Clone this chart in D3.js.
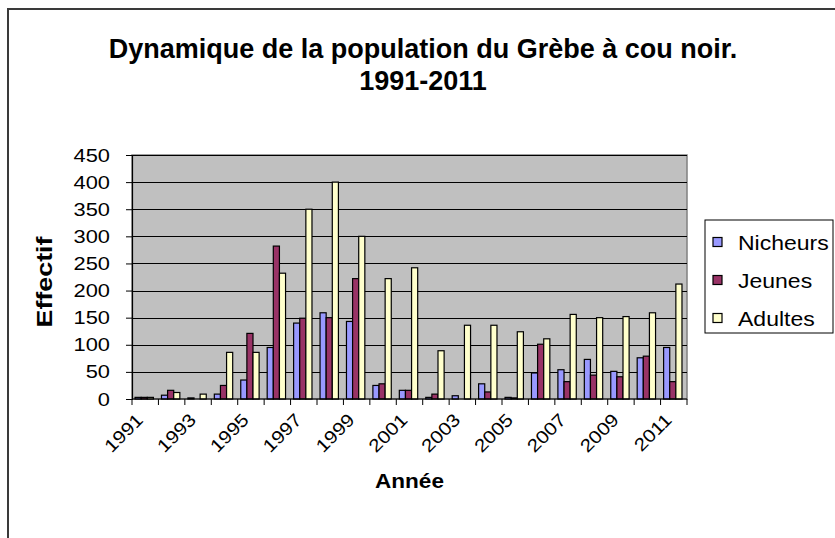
<!DOCTYPE html>
<html>
<head>
<meta charset="utf-8">
<script src="https://cdn.jsdelivr.net/npm/d3@7"></script>
<style>
  html, body { margin: 0; padding: 0; background: #fff; }
  svg { display: block; font-family: "Liberation Sans", Arial, sans-serif; }
</style>
</head>
<body>
<svg id="chart" width="835" height="538"></svg>
<script>
// Years of the survey
const years = [1991, 1992, 1993, 1994, 1995, 1996, 1997, 1998, 1999, 2000, 2001,
               2002, 2003, 2004, 2005, 2006, 2007, 2008, 2009, 2010, 2011];
// Counts per category of birds
const nicheurs = [3, 7, 2, 9, 35, 95, 140, 159, 143, 25, 16, 3, 6, 28, 3, 48, 54, 73, 51, 76, 95];
const jeunes   = [3, 16, 0, 25, 121, 282, 149, 150, 222, 28, 16, 9, 0, 13, 2, 101, 32, 44, 41, 79, 32];
const adultes  = [3, 12, 9, 86, 86, 232, 350, 400, 300, 222, 242, 89, 136, 136, 124, 111, 156, 150, 152, 159, 212];
const seriesNames = ["Nicheurs", "Jeunes", "Adultes"];
const seriesColors = ["#9999FF", "#993366", "#FFFFCC"];
const yTicks = [0, 50, 100, 150, 200, 250, 300, 350, 400, 450];
const xLabelYears = [1991, 1993, 1995, 1997, 1999, 2001, 2003, 2005, 2007, 2009, 2011];

const seriesValues = [nicheurs, jeunes, adultes];
const svg = d3.select("#chart");
const W = 1.15; // horizontal widening of the axis and legend lettering

// plot box
const pLeft = 132, pRight = 687, pTop = 155, pBottom = 399;

const x = d3.scaleBand().domain(years).range([pLeft, pRight]).padding(0);
const y = d3.scaleLinear().domain([0, 450]).range([pBottom, pTop]);
const bw = x.bandwidth();
const xs = d3.scaleBand().domain(d3.range(3)).range([bw * 0.115, bw * 0.81]).padding(0);

// outer chart frame
svg.append("rect")
  .attr("x", 8).attr("y", 9).attr("width", 900).attr("height", 600)
  .attr("fill", "#fff").attr("stroke", "#3a3a3a").attr("stroke-width", 2);

// plot background
svg.append("rect")
  .attr("x", pLeft).attr("y", pTop).attr("width", pRight - pLeft).attr("height", pBottom - pTop)
  .attr("fill", "#C0C0C0").attr("stroke", "#808080").attr("stroke-width", 1.5);

// horizontal gridlines
svg.append("g").selectAll("line")
  .data(yTicks.filter(d => d > 0))
  .join("line")
  .attr("x1", pLeft).attr("x2", pRight)
  .attr("y1", d => Math.round(y(d)) + 0.5).attr("y2", d => Math.round(y(d)) + 0.5)
  .attr("stroke", "#000").attr("stroke-width", 1);

// bars
const groups = svg.append("g").selectAll("g")
  .data(years)
  .join("g")
  .attr("transform", d => `translate(${x(d)},0)`);
groups.selectAll("rect")
  .data((d, i) => seriesValues.map((vals, s) => ({ s, v: vals[i] })).filter(e => e.v > 0))
  .join("rect")
  .attr("x", d => xs(d.s))
  .attr("width", xs.bandwidth())
  .attr("y", d => y(d.v))
  .attr("height", d => pBottom - y(d.v))
  .attr("fill", d => seriesColors[d.s])
  .attr("stroke", "#000").attr("stroke-width", 1.2);

// y axis
const yAxis = svg.append("g")
  .attr("transform", `translate(${pLeft},0)`)
  .call(d3.axisLeft(y).tickValues(yTicks).tickSize(6).tickPadding(16));
yAxis.select(".domain").attr("stroke", "#000").attr("stroke-width", 1.2);
yAxis.selectAll(".tick line").attr("stroke", "#000");
yAxis.selectAll(".tick text")
  .attr("font-size", 19).attr("fill", "#000")
  .attr("font-family", "Liberation Sans, Arial, sans-serif")
  .each(function () {
    const t = d3.select(this);
    const xx = +t.attr("x");
    t.attr("x", null).attr("transform", `translate(${xx},0) scale(${W},1)`);
  });

// x axis: ticks between categories
const xAxis = svg.append("g").attr("transform", `translate(0,${pBottom})`);
xAxis.append("line").attr("x1", pLeft).attr("x2", pRight)
  .attr("stroke", "#000").attr("stroke-width", 1.2);
xAxis.selectAll("line.tk")
  .data(years.concat(["end"]))
  .join("line").attr("class", "tk")
  .attr("x1", d => d === "end" ? pRight : x(d)).attr("x2", d => d === "end" ? pRight : x(d))
  .attr("y1", 0).attr("y2", 6)
  .attr("stroke", "#000");
xAxis.selectAll("text")
  .data(xLabelYears)
  .join("text")
  .attr("transform", d => `translate(${x(d) + bw / 2 - 10},13) rotate(-45) scale(${W},1)`)
  .attr("text-anchor", "end")
  .attr("dy", "0.71em")
  .attr("font-size", 18)
  .text(d => d);

// titles
const title = svg.append("text")
  .attr("text-anchor", "middle").attr("font-weight", "bold").attr("font-size", 27);
title.append("tspan").attr("x", 0).attr("y", 0).text("Dynamique de la population du Grèbe à cou noir.");
title.append("tspan").attr("x", 0).attr("y", 32).text("1991-2011");
title.attr("transform", "translate(423,58)");

svg.append("text")
  .attr("transform", `translate(52,${(pTop + pBottom) / 2 + 5}) rotate(-90) scale(1.25,1)`)
  .attr("text-anchor", "middle").attr("font-weight", "bold").attr("font-size", 21.5)
  .text("Effectif");

svg.append("text")
  .attr("transform", `translate(${(pLeft + pRight) / 2},488) scale(1.1,1)`)
  .attr("text-anchor", "middle").attr("font-weight", "bold").attr("font-size", 20.5)
  .text("Année");

// legend
const legend = svg.append("g");
legend.append("rect")
  .attr("x", 705).attr("y", 220).attr("width", 128).attr("height", 113)
  .attr("fill", "#fff").attr("stroke", "#000").attr("stroke-width", 1);
const items = legend.selectAll("g.item")
  .data(seriesNames)
  .join("g").attr("class", "item")
  .attr("transform", (d, i) => `translate(713,${242 + i * 38})`);
items.append("rect")
  .attr("x", 0).attr("y", -4.5).attr("width", 9).attr("height", 9)
  .attr("fill", (d, i) => seriesColors[i]).attr("stroke", "#000").attr("stroke-width", 1.2);
items.append("text")
  .attr("transform", `translate(25,7.5) scale(${W},1)`)
  .attr("font-size", 20)
  .text(d => d);
</script>
</body>
</html>
